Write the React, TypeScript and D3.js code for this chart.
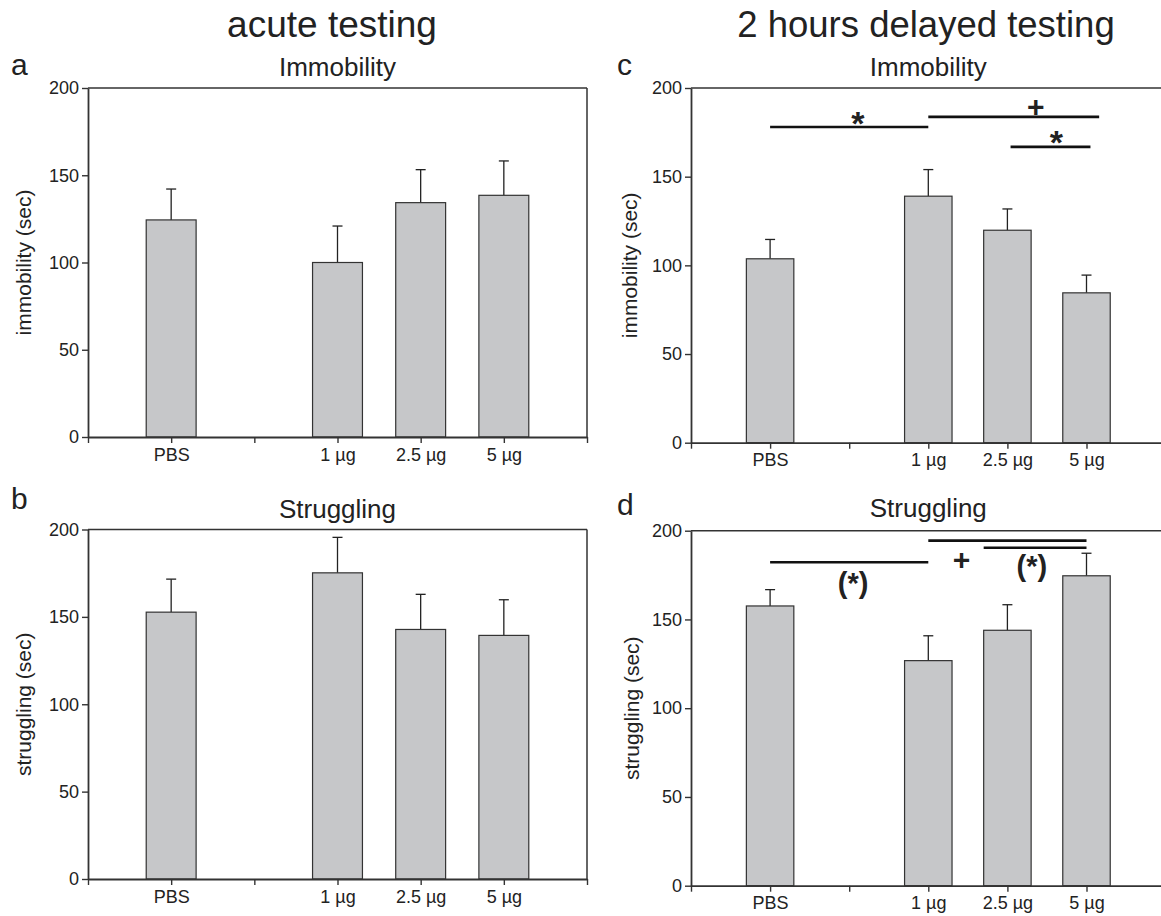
import React from "react";
import * as d3 from "d3";

// x slots: an unlabeled tick sits before PBS, in the gap, and at the end
const slots = ["_start", "PBS", "_gap", "1 µg", "2.5 µg", "5 µg", "_end"];
const groups = ["PBS", "1 µg", "2.5 µg", "5 µg"];
const yTicks = [0, 50, 100, 150, 200];

const acuteImmobility = [124.4, 100.0, 134.3, 138.5];
const acuteImmobilitySem = [17.7, 20.9, 18.9, 19.7];
const acuteStruggling = [152.7, 175.2, 142.8, 139.4];
const acuteStrugglingSem = [18.9, 20.3, 20.1, 20.4];
const delayedImmobility = [103.7, 139.0, 119.8, 84.5];
const delayedImmobilitySem = [10.9, 15.0, 12.0, 10.0];
const delayedStruggling = [157.6, 126.8, 143.9, 174.6];
const delayedStrugglingSem = [9.2, 14.0, 14.4, 12.7];

// significance bars: slot index from/to and the y value
const delayedImmobilityBars = [
  { from: 1, to: 3, y: 178 },
  { from: 3, to: 5.16, y: 183.7 },
  { from: 4.04, to: 5.05, y: 166.8 },
];
const delayedImmobilityMarks = [
  { at: 2.11, y: 182.9, text: "*" },
  { at: 4.36, y: 189.7, text: "+" },
  { at: 4.62, y: 172.4, text: "*" },
];
const delayedStrugglingBars = [
  { from: 1, to: 3, y: 182.2 },
  { from: 3, to: 5, y: 194.4 },
  { from: 3.7, to: 5, y: 190.4 },
];
const delayedStrugglingMarks = [
  { at: 2.05, y: 170.5, text: "(*)" },
  { at: 3.42, y: 184, text: "+" },
  { at: 4.31, y: 180, text: "(*)" },
];

const FONT = "'Liberation Sans', Arial, Helvetica, sans-serif";
const INK = "#222";

const panels = [
  {
    letter: "a", title: "Immobility", yLabel: "immobility (sec)",
    values: acuteImmobility, sem: acuteImmobilitySem,
    x0: 88, x1: 587, top: 88, bottom: 437, right: true,
    titleY: 76, letterX: 11, letterY: 75, yLabelX: 23,
    bars: [], marks: [],
  },
  {
    letter: "b", title: "Struggling", yLabel: "struggling (sec)",
    values: acuteStruggling, sem: acuteStrugglingSem,
    x0: 88, x1: 587, top: 529.5, bottom: 879, right: true,
    titleY: 518, letterX: 11, letterY: 509, yLabelX: 23,
    bars: [], marks: [],
  },
  {
    letter: "c", title: "Immobility", yLabel: "immobility (sec)",
    values: delayedImmobility, sem: delayedImmobilitySem,
    x0: 691, x1: 1165.6, top: 88, bottom: 442.7, right: false,
    titleY: 76, letterX: 617, letterY: 75, yLabelX: 629,
    bars: delayedImmobilityBars, marks: delayedImmobilityMarks,
  },
  {
    letter: "d", title: "Struggling", yLabel: "struggling (sec)",
    values: delayedStruggling, sem: delayedStrugglingSem,
    x0: 691, x1: 1165.6, top: 530.7, bottom: 885.7, right: false,
    titleY: 517, letterX: 617, letterY: 515, yLabelX: 631,
    bars: delayedStrugglingBars, marks: delayedStrugglingMarks,
  },
];

function drawPanel(g, p) {
  const x = d3.scalePoint().domain(slots).range([p.x0, p.x1]);
  const step = x.step();
  const xu = (u) => p.x0 + u * step;
  const y = d3.scaleLinear().domain([0, 200]).range([p.bottom, p.top]);
  const barW = step * 0.6;

  // frame lines
  g.append("line")
    .attr("x1", p.x0).attr("x2", p.x1)
    .attr("y1", p.top).attr("y2", p.top)
    .attr("stroke", "#333").attr("stroke-width", 1.5);
  if (p.right) {
    g.append("line")
      .attr("x1", p.x1).attr("x2", p.x1)
      .attr("y1", p.top).attr("y2", p.bottom)
      .attr("stroke", "#333").attr("stroke-width", 1.5);
  }

  const data = groups.map((k, i) => ({ k, v: p.values[i], e: p.sem[i] }));

  // error whiskers (upper only)
  const err = g.selectAll(".err").data(data).join("g").attr("class", "err");
  err.append("line")
    .attr("x1", (d) => x(d.k)).attr("x2", (d) => x(d.k))
    .attr("y1", (d) => y(d.v)).attr("y2", (d) => y(d.v + d.e))
    .attr("stroke", "#222").attr("stroke-width", 1.3);
  err.append("line")
    .attr("x1", (d) => x(d.k) - 5).attr("x2", (d) => x(d.k) + 5)
    .attr("y1", (d) => y(d.v + d.e)).attr("y2", (d) => y(d.v + d.e))
    .attr("stroke", "#222").attr("stroke-width", 1.3);

  g.selectAll(".bar").data(data).join("rect")
    .attr("class", "bar")
    .attr("x", (d) => x(d.k) - barW / 2)
    .attr("y", (d) => y(d.v))
    .attr("width", barW)
    .attr("height", (d) => y(0) - y(d.v))
    .attr("fill", "#c6c7c9")
    .attr("stroke", "#333")
    .attr("stroke-width", 1.2);

  // axes
  const yAxis = d3.axisLeft(y).tickValues(yTicks).tickSize(6).tickSizeOuter(0).tickPadding(3);
  const ya = g.append("g").attr("transform", `translate(${p.x0},0)`).call(yAxis);
  const xAxis = d3.axisBottom(x).tickSize(6).tickSizeOuter(0).tickPadding(5)
    .tickFormat((d) => (d.startsWith("_") ? "" : d));
  const xa = g.append("g").attr("transform", `translate(0,${p.bottom})`).call(xAxis);
  [ya, xa].forEach((a) => {
    a.select(".domain").attr("stroke", "#333").attr("stroke-width", 1.8);
    a.selectAll(".tick line").attr("stroke", "#333").attr("stroke-width", 1.4);
    a.selectAll("text").attr("fill", INK).style("font-family", FONT).style("font-size", "18px");
  });

  // significance bars
  g.selectAll(".sig").data(p.bars).join("line")
    .attr("class", "sig")
    .attr("x1", (d) => xu(d.from)).attr("x2", (d) => xu(d.to))
    .attr("y1", (d) => y(d.y)).attr("y2", (d) => y(d.y))
    .attr("stroke", "#111").attr("stroke-width", 2.6);
  g.selectAll(".mark").data(p.marks).join("text")
    .attr("class", "mark")
    .attr("x", (d) => xu(d.at))
    .attr("y", (d) => y(d.y))
    .attr("text-anchor", "middle")
    .attr("dominant-baseline", "central")
    .attr("dy", (d) => (d.text === "*" ? "0.14em" : "0"))
    .attr("fill", "#222")
    .style("font-family", FONT)
    .style("font-weight", "bold")
    .style("font-size", (d) => (d.text === "*" ? "34px" : d.text === "+" ? "30px" : "29px"))
    .text((d) => d.text);

  // labels
  g.append("text")
    .attr("x", (p.x0 + p.x1) / 2).attr("y", p.titleY)
    .attr("text-anchor", "middle").attr("fill", INK)
    .style("font-family", FONT).style("font-size", "26px")
    .text(p.title);
  g.append("text")
    .attr("x", p.letterX).attr("y", p.letterY)
    .attr("fill", INK)
    .style("font-family", FONT).style("font-size", "30px")
    .text(p.letter);
  g.append("text")
    .attr("transform", `translate(${p.yLabelX},${(p.top + p.bottom) / 2}) rotate(-90)`)
    .attr("text-anchor", "middle").attr("dominant-baseline", "central")
    .attr("fill", INK)
    .style("font-family", FONT).style("font-size", "21px")
    .text(p.yLabel);
}

export default function App() {
  const svgRef = React.useRef(null);

  React.useEffect(() => {
    const svg = d3.select(svgRef.current);
    svg.selectAll("*").remove();

    svg.append("text")
      .attr("x", 332).attr("y", 37)
      .attr("text-anchor", "middle").attr("fill", INK)
      .style("font-family", FONT).style("font-size", "37px")
      .text("acute testing");
    svg.append("text")
      .attr("x", 926).attr("y", 37)
      .attr("text-anchor", "middle").attr("fill", INK)
      .style("font-family", FONT).style("font-size", "36.5px")
      .text("2 hours delayed testing");

    panels.forEach((p) => drawPanel(svg.append("g"), p));
  }, []);

  return (
    <svg
      ref={svgRef}
      width={1161}
      height={916}
      style={{ position: "absolute", left: 0, top: 0, background: "#fff" }}
    />
  );
}
